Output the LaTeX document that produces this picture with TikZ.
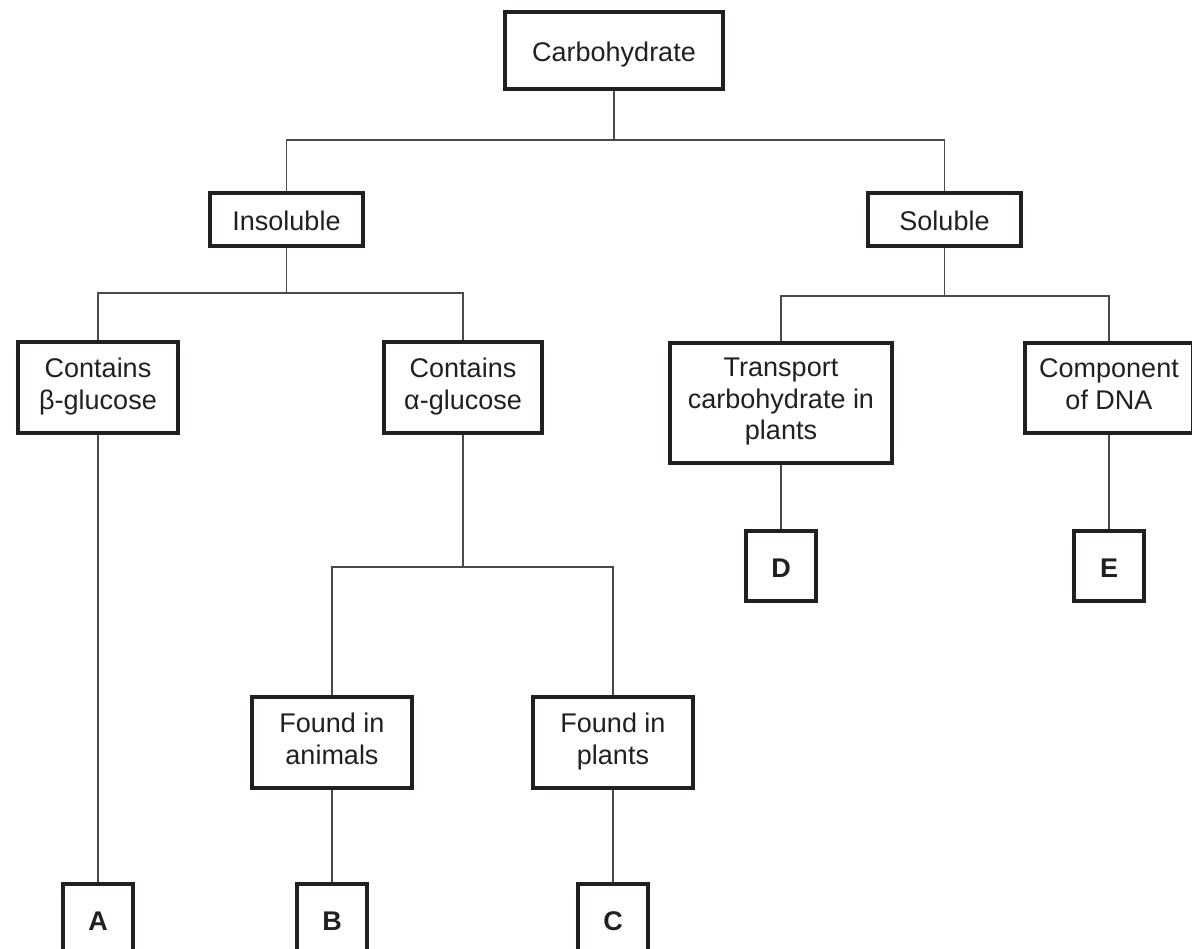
\documentclass[tikz,border=0pt]{standalone}
\usepackage{fontspec}
\setmainfont{Liberation Sans}
\usepackage{tikz}
\usepackage{xcolor}
\usetikzlibrary{positioning}
\definecolor{ink}{HTML}{231F20}
\definecolor{wire}{HTML}{4A4A4A}
\newcommand{\boxstrut}{\rule[-8pt]{0pt}{39pt}}

\begin{document}
\begin{tikzpicture}[on grid, font=\fontsize{27}{31.7}\selectfont,
    box/.style={draw=ink, text=ink, line width=4pt, align=center, inner sep=2pt,
        execute at begin node=\boxstrut, execute at end node=\boxstrut},
    letter/.style={box, minimum width=70pt, minimum height=70pt, font=\fontsize{27}{31.7}\selectfont\bfseries},
    link/.style={draw=wire, line width=1.3pt}]
    \useasboundingbox (0,0) rectangle (1192pt,-949pt);

    \node[box, minimum width=218pt, minimum height=77pt] (carb) at (614pt,-50.5pt) {Carbohydrate};
    \node[box, minimum width=153pt, minimum height=53pt, below left=169pt and 327.5pt of carb] (insol) {Insoluble};
    \node[box, minimum width=153pt, minimum height=53pt, below right=169pt and 330.5pt of carb] (sol) {Soluble};
    \node[box, minimum width=160pt, minimum height=91pt, below left=168pt and 188.5pt of insol] (beta) {Contains\\β-glucose};
    \node[box, minimum width=158pt, minimum height=91pt, below right=168pt and 176.5pt of insol] (alpha) {Contains\\α-glucose};
    \node[box, minimum width=222pt, minimum height=120pt, below left=183.5pt and 163.5pt of sol] (trans) {Transport\\carbohydrate in\\plants};
    \node[box, minimum width=168pt, minimum height=90pt, below right=168.5pt and 164.5pt of sol] (comp) {Component\\of DNA};
    \node[letter, below=163pt of trans] (D) {D};
    \node[letter, below=178pt of comp] (E) {E};
    \node[box, minimum width=160pt, minimum height=91pt, below left=355pt and 131pt of alpha] (anim) {Found in\\animals};
    \node[box, minimum width=160pt, minimum height=91pt, below right=355pt and 150pt of alpha] (plant) {Found in\\plants};
    \node[letter, below=531.5pt of beta] (A) {A};
    \node[letter, below=176.5pt of anim] (B) {B};
    \node[letter, below=176.5pt of plant] (C) {C};

    \coordinate[below=89.5pt of carb] (carbj);
    \coordinate[below=73.5pt of insol] (insolj);
    \coordinate[below=76.5pt of sol] (solj);
    \coordinate[below=179.5pt of alpha] (alphaj);

    \draw[link] (carb) -- (carbj);
    \draw[link] (insol.north) |- (carbj) -| (sol.north);
    \draw[link] (insol) -- (insolj);
    \draw[link] (beta.north) |- (insolj) -| (alpha.north);
    \draw[link] (sol) -- (solj);
    \draw[link] (trans.north) |- (solj) -| (comp.north);
    \draw[link] (alpha) -- (alphaj);
    \draw[link] (anim.north) |- (alphaj) -| (plant.north);
    \draw[link] (beta) -- (A);
    \draw[link] (anim) -- (B);
    \draw[link] (plant) -- (C);
    \draw[link] (trans) -- (D);
    \draw[link] (comp) -- (E);
\end{tikzpicture}
\end{document}
